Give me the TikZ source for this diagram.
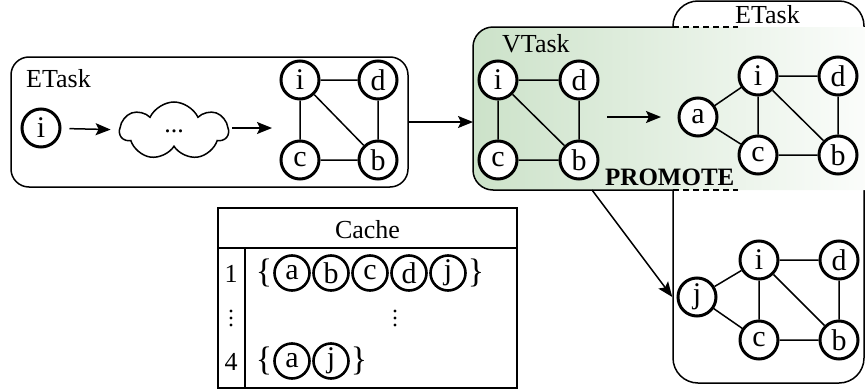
\documentclass[tikz,border=0pt]{standalone}
\usepackage{fontspec}
\setmainfont{Liberation Serif}
\usetikzlibrary{shapes.symbols,arrows.meta}
\definecolor{vgreen}{RGB}{204,226,201}
\tikzset{
  txt/.style={font=\fontsize{26}{26}\selectfont},
  vtxt/.style={font=\fontsize{30}{30}\selectfont},
  vx/.style={circle,draw,line width=3pt,minimum size=38pt,inner sep=0pt,fill=white,vtxt},
  cx/.style={circle,draw,line width=2.6pt,minimum size=35pt,inner sep=0pt,vtxt},
  edge/.style={line width=1.5pt},
  arr/.style={line width=1.5pt,-{Stealth[length=15pt,width=12pt,inset=3pt]}},
  lbl/.style={txt,inner sep=0pt},
  brace/.style={inner sep=0pt,font=\fontsize{34}{34}\selectfont},
  frame/.style={draw,line width=1.5pt,inner sep=0pt},
  dashedge/.style={line width=1.5pt,dash pattern=on 6pt off 4pt},
}
\begin{document}
\begin{tikzpicture}[x=1pt,y=-1pt]
\useasboundingbox (0,0) rectangle (865,391);

% ---- right ETask frame (behind the VTask band)
\node[frame,rounded corners=25pt,minimum width=191pt,minimum height=382pt] (etR) at (768.5,192) {};
\node[lbl,anchor=base west] (etRl) at (735,23) {ETask};

% ---- VTask band, shaded green fading to white
\shade[left color=vgreen,right color=white,rounded corners=20pt]
  (900,27) -- (473,27) -- (473,190) -- (900,190) -- cycle;
\draw[line width=1.5pt,rounded corners=20pt] (673,27) -- (473,27) -- (473,190) -- (673,190);
\draw[dashedge] (673,27) -- (738,27);
\draw[dashedge] (673,190) -- (738,190);
\node[lbl,anchor=base west] (vtl) at (502,52) {VTask};
\node[lbl,anchor=base west,font=\fontsize{25}{25}\selectfont\bfseries] (prom) at (605,185) {PROMOTE};

% ---- left ETask frame
\node[frame,rounded corners=18pt,minimum width=397pt,minimum height=130pt] (etL) at (209.5,122) {};
\node[lbl,anchor=base west] (etLl) at (26,87) {ETask};
\node[vx] (s0) at (41,128) {i};
\node[cloud,draw,line width=1.5pt,cloud puffs=7,cloud puff arc=130,aspect=1.7,
      minimum width=108pt,minimum height=58pt,inner sep=0pt,txt] (cl) at (174,131) {...};
\coordinate (gin) at (272,128);
\draw[arr,shorten <=8pt,shorten >=8pt] (s0) -- (cl);
\draw[arr] (232,128) -- (gin);

\node[vx] (li) at (300,80) {i};
\node[vx] (ld) at (378,80) {d};
\node[vx] (lc) at (300,160) {c};
\node[vx] (lb) at (378,160) {b};
\draw[edge] (li) -- (ld) (li) -- (lc) (li) -- (lb) (ld) -- (lb) (lc) -- (lb);

% ---- VTask graph
\coordinate (vW) at (473,122);
\draw[arr] (etL.east) -- (vW);
\node[vx] (vi) at (498,80) {i};
\node[vx] (vd) at (579,80) {d};
\node[vx] (vc) at (498,160) {c};
\node[vx] (vb) at (579,160) {b};
\draw[edge] (vi) -- (vd) (vi) -- (vc) (vi) -- (vb) (vd) -- (vb) (vc) -- (vb);

% ---- promoted graph with a
\coordinate (pa) at (607,117);
\coordinate (pb) at (661,117);
\draw[arr] (pa) -- (pb);
\node[vx] (ua) at (698,117) {a};
\node[vx] (ui) at (758,76) {i};
\node[vx] (ud) at (838,76) {d};
\node[vx] (uc) at (758,155) {c};
\node[vx] (ub) at (838,155) {b};
\draw[edge] (ua) -- (ui) (ua) -- (uc) (ui) -- (ud) (ui) -- (uc) (ui) -- (ub) (ud) -- (ub) (uc) -- (ub);

% ---- promoted graph with j
\node[vx] (wj) at (697,297) {j};
\node[vx] (wi) at (759,260) {i};
\node[vx] (wd) at (839,260) {d};
\node[vx] (wc) at (759,340) {c};
\node[vx] (wb) at (839,340) {b};
\draw[edge] (wj) -- (wi) (wj) -- (wc) (wi) -- (wd) (wi) -- (wc) (wi) -- (wb) (wd) -- (wb) (wc) -- (wb);
\coordinate (vS) at (592,190);
\draw[arr] (vS) -- (etR.west|-wj);

% ---- Cache table
\node[frame,minimum width=299pt,minimum height=180pt] (tab) at (367.5,298) {};
\draw[line width=1.5pt] (218,248) -- (517,248);
\draw[line width=1.5pt] (245,248) -- (245,388);
\node[lbl] (hd) at (367.5,230) {Cache};
\node[lbl] (r1) at (231,274) {1};
\node[lbl] (r4) at (231,362) {4};
\foreach \x in {231,395}{
  \foreach \y in {311,318,325}{\fill (\x,\y) circle (1.7pt);}
}
\node[brace] (ob1) at (264,273) {\{};
\node[cx] (ca) at (292,273) {a};
\node[cx] (cb) at (331,273) {b};
\node[cx] (cc) at (370,273) {c};
\node[cx] (cd) at (409,273) {d};
\node[cx] (cj) at (448,273) {j};
\node[brace] (cb1) at (476,273) {\}};
\node[brace] (ob4) at (264,361) {\{};
\node[cx] (ea) at (292,361) {a};
\node[cx] (ej) at (331,361) {j};
\node[brace] (cb4) at (359,361) {\}};
\end{tikzpicture}
\end{document}
